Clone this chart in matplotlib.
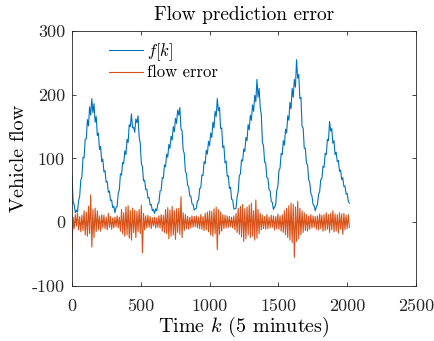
import numpy as np
import matplotlib
matplotlib.use("Agg")
import matplotlib.pyplot as plt

# Flow prediction error, 7 days of 5-minute samples (every 8th sample)

step = 8

flow = [
    # day 1
    74, 33, 27, 15, 19, 16, 34, 41, 66, 71, 102, 101, 130, 131, 161, 151, 181, 168, 194, 172,
    186, 157, 166, 136, 140, 114, 119, 95, 99, 79, 81, 63, 64, 47, 49, 34, 35, 23, 25, 15, 23,
    # day 2
    25, 45, 51, 76, 74, 94, 92, 112, 106, 130, 125, 153, 150, 170, 148, 149, 141, 162, 156, 167,
    134, 124, 92, 87, 65, 66, 51, 52, 38, 39, 27, 28, 18, 20, 14, 21,
    # day 3
    18, 29, 31, 49, 50, 70, 69, 90, 87, 107, 102, 122, 116, 135, 129, 150, 142, 163, 155, 176,
    168, 180, 146, 144, 113, 108, 80, 76, 58, 56, 41, 41, 29, 28, 19, 21,
    # day 4
    22, 34, 35, 53, 54, 74, 73, 95, 92, 113, 107, 127, 120, 140, 133, 157, 148, 174, 166, 194,
    175, 180, 147, 148, 117, 120, 93, 96, 72, 73, 53, 55, 36, 35, 21, 21,
    # day 5
    22, 40, 48, 73, 76, 98, 96, 115, 111, 133, 128, 153, 145, 168, 160, 184, 174, 199, 189, 224,
    196, 210, 180, 168, 125, 120, 94, 93, 70, 69, 51, 49, 33, 31, 20, 24,
    # day 6
    27, 50, 56, 81, 85, 108, 106, 128, 121, 146, 140, 167, 160, 188, 178, 210, 196, 224, 212, 255,
    226, 232, 194, 196, 150, 148, 116, 116, 92, 90, 67, 62, 45, 41, 28, 26,
    # day 7
    18, 24, 28, 44, 48, 67, 68, 88, 86, 108, 106, 130, 128, 158, 143, 147, 124, 128, 106, 110,
    95, 97, 80, 82, 67, 70, 56, 57, 44, 45, 33, 30,
]

flow_error = [
    -45, 8, -10, 12, -6, 14, -12, 9, -15, 11,
    -13, 18, -20, 16, -22, 25, -18, 43, -39, 20,
    -24, 22, -15, 18, -12, 10, -14, 12, -9, 11,
    -10, 8, -12, 14, -8, 9, -11, 7, -9, 8,
    -7, 10, -9, 8, -14, 20, -18, 15, -22, 24,
    -20, 26, -25, 18, -28, 22, -16, 19, -24, 17,
    -15, 20, -18, 27, -48, 14, -12, 10, -9, 11,
    -8, 9, -10, 7, -6, 8, -9, 7, -8, 10,
    -9, 12, -14, 11, -16, 20, -18, 23, -26, 19,
    -22, 25, -20, 18, -27, 21, -16, 22, -19, 40,
    -24, 15, -13, 12, -10, 9, -11, 8, -9, 10,
    -8, 9, -7, 10, -9, 8, -10, 12, -11, 9,
    -13, 14, -12, 16, -15, 18, -20, 17, -22, 21,
    -18, 24, -43, 20, -19, 16, -14, 12, -10, 11,
    -9, 10, -8, 9, -7, 8, -9, 10, -12, 14,
    -16, 22, -19, 25, -23, 28, -30, 21, -26, 24,
    -20, 27, -24, 30, -22, 18, -28, 35, -25, 20,
    -18, 14, -12, 11, -10, 9, -11, 12, -10, 8,
    -9, 11, -8, 10, -12, 9, -10, 13, -11, 10,
    -14, 12, -16, 18, -20, 22, -24, 26, -28, 30,
    -32, 28, -55, 24, -30, 33, -26, 22, -20, 18,
    -16, 15, -13, 12, -14, 10, -11, 12, -9, 10,
    -8, 9, -11, 10, -12, 13, -10, 11, -14, 12,
    -13, 15, -11, 12, -16, 14, -12, 18, -15, 13,
    -14, 12, -17, 15, -11, 13, -19, 14, -12, 11,
    -10, 12, -8,
]

k = np.arange(len(flow)) * step

xticks = [0, 500, 1000, 1500, 2000, 2500]
yticks = [-100, 0, 100, 200, 300]

plt.rcParams["font.family"] = "serif"
plt.rcParams["font.serif"] = ["cmr10"]
plt.rcParams["mathtext.fontset"] = "cm"
plt.rcParams["axes.unicode_minus"] = False

fig = plt.figure(figsize=(4.35, 3.41), dpi=100)
ax = fig.add_axes([0.1655, 0.1613, 0.7908, 0.7478])

ax.plot(k, flow, color="#0072BD", lw=0.8, label="$f[k]$")
ax.plot(k, flow_error, color="#D95319", lw=0.8, label="flow error")

ax.set_xlim(0, 2500)
ax.set_ylim(-100, 300)
ax.set_xticks(xticks)
ax.set_xticklabels([str(t) for t in xticks])
ax.set_yticks(yticks)
ax.set_yticklabels([str(t) for t in yticks])

for s in ax.spines.values():
    s.set_color("#262626")
    s.set_linewidth(0.6)
ax.tick_params(direction="in", length=3, width=0.6, colors="#262626",
               top=True, right=True, labelsize=13)
ax.tick_params(axis="x", pad=9)
ax.tick_params(axis="y", pad=5)

ax.set_title("Flow prediction error", fontsize=14, pad=8)
ax.set_xlabel("Time $k$ (5 minutes)", fontsize=14.5, labelpad=1)
ax.set_ylabel("Vehicle flow", fontsize=14.5, labelpad=3)

ax.legend(loc="upper left", bbox_to_anchor=(0.065, 1.02), frameon=False,
          fontsize=12, handlelength=2.0, handletextpad=0.25, labelspacing=0.15)

fig.savefig("out.png", dpi=100)
